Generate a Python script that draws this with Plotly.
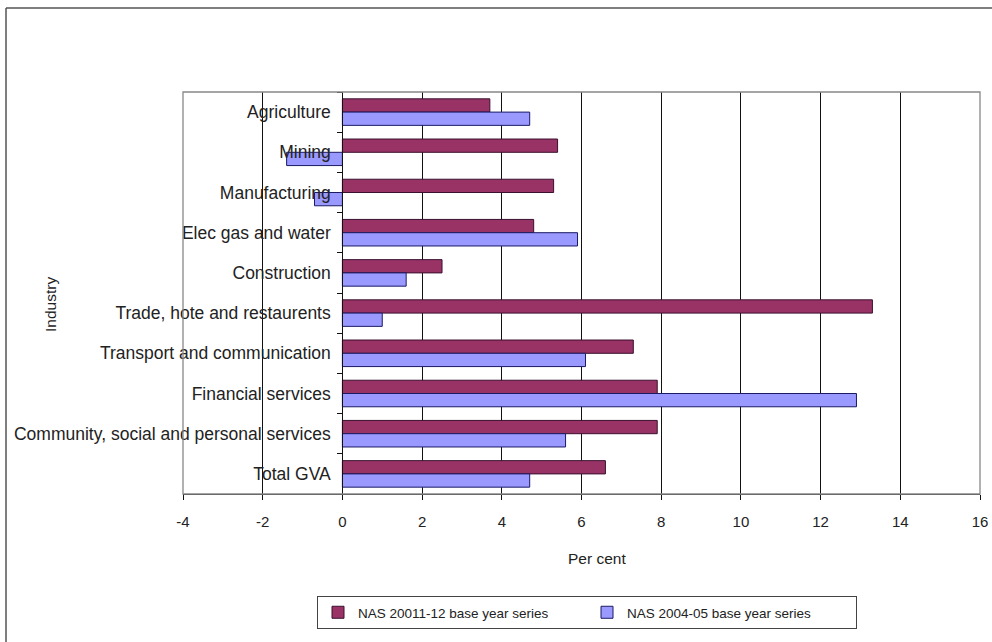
import plotly.graph_objects as go

industries = ["Agriculture", "Mining", "Manufacturing", "Elec gas and water", "Construction",
              "Trade, hote and restaurents", "Transport and communication", "Financial services",
              "Community, social and personal services", "Total GVA"]
series_2011 = [3.7, 5.4, 5.3, 4.8, 2.5, 13.3, 7.3, 7.9, 7.9, 6.6]
series_2004 = [4.7, -1.4, -0.7, 5.9, 1.6, 1.0, 6.1, 12.9, 5.6, 4.7]
name_2011 = "NAS 20011-12 base year series"
name_2004 = "NAS 2004-05 base year series"
x_ticks = list(range(-4, 17, 2))

W, H = 992, 642
L, R, T, B = 183, 12, 92, 148
pw, ph = W - L - R, H - T - B

def fx(px):
    return (px - L) / pw

def fy(py):
    return (H - B - py) / ph

FONT = "Liberation Sans, Arial, sans-serif"

fig = go.Figure()
fig.add_trace(go.Bar(y=industries, x=series_2011, orientation="h", name=name_2011,
                     marker=dict(color="#993366", line=dict(color="#3a1030", width=1))))
fig.add_trace(go.Bar(y=industries, x=series_2004, orientation="h", name=name_2004,
                     marker=dict(color="#9999ff", line=dict(color="#1a1a66", width=1))))

fig.update_layout(
    width=W, height=H,
    margin=dict(l=L, r=R, t=T, b=B, autoexpand=False),
    paper_bgcolor="white", plot_bgcolor="white",
    barmode="group", bargap=0.34, bargroupgap=0.0,
    font=dict(family=FONT, size=16, color="#222222"),
    xaxis=dict(range=[-4, 16], tickvals=x_ticks, ticktext=[str(v) for v in x_ticks],
               automargin=False,
               showgrid=True, gridcolor="#111111", gridwidth=1.3, zeroline=False,
               showline=True, linecolor="#111111", linewidth=1.3,
               ticks="outside", ticklen=5, tickcolor="#111111",
               ticklabelstandoff=9,
               tickfont=dict(size=15)),
    yaxis=dict(autorange="reversed", anchor="free", position=0.2, automargin=False,
               showline=True, linecolor="#111111", linewidth=1.3,
               ticks="outside", ticklen=5, tickcolor="#111111", tickson="boundaries",
               ticklabelstandoff=8,
               showgrid=False, tickfont=dict(size=17.5)),
    legend=dict(orientation="h", x=fx(587), xanchor="center", y=fy(596), yanchor="top",
                bordercolor="#444444", borderwidth=1, font=dict(size=13.5),
                entrywidth=224, entrywidthmode="pixels", itemwidth=30,
                traceorder="normal"),
    showlegend=True,
)

fig.add_annotation(text="Industry", textangle=-90, xref="paper", yref="paper",
                   x=fx(50), y=fy(305), xanchor="center", yanchor="middle",
                   showarrow=False, font=dict(size=15.5))
fig.add_annotation(text="Per cent", xref="paper", yref="paper",
                   x=fx(597), y=fy(558), xanchor="center", yanchor="middle",
                   showarrow=False, font=dict(size=15.5))

# plot area border
fig.add_shape(type="rect", xref="paper", yref="paper", x0=0, x1=1, y0=0, y1=1,
              line=dict(color="#888888", width=1.3), layer="above")
# outer chart border (top and left edges visible)
fig.add_shape(type="line", xref="paper", yref="paper", x0=fx(6), x1=fx(995), y0=fy(8), y1=fy(8),
              line=dict(color="#555555", width=1.5), layer="below")
fig.add_shape(type="line", xref="paper", yref="paper", x0=fx(6), x1=fx(6), y0=fy(8), y1=fy(645),
              line=dict(color="#555555", width=1.5), layer="below")

fig.write_html("out.html")
